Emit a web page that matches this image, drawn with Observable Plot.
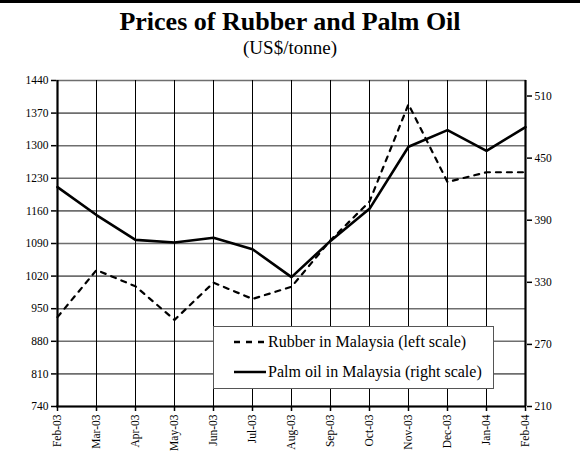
<!DOCTYPE html>
<html>
<head>
<meta charset="utf-8">
<script src="https://cdn.jsdelivr.net/npm/d3@7"></script>
<script src="https://cdn.jsdelivr.net/npm/@observablehq/plot@0.6"></script>
<style>
  html, body { margin: 0; padding: 0; background: #fff; }
  #wrap { position: relative; width: 580px; height: 461px; font-family: "Liberation Serif", "Times New Roman", serif; }
  #topbar { position: absolute; left: 0; top: 0; width: 580px; height: 3px; background: #000; }
  #title { position: absolute; left: 0; width: 580px; top: 7px; text-align: center; font-weight: bold; font-size: 26px; line-height: 30px; }
  #subtitle { position: absolute; left: 0; width: 580px; top: 37px; text-align: center; font-size: 19px; line-height: 22px; }
  #legend { position: absolute; left: 213px; top: 326px; width: 279px; height: 61px; background: #fff; border: 1px solid #555; font-size: 16px; }
  .lg { position: absolute; left: 20px; height: 20px; display: flex; align-items: center; white-space: nowrap; }
  .lg svg { margin-right: 2px; }
  #plot { position: absolute; left: 0; top: 0; }
</style>
</head>
<body>
<div id="wrap">
  <div id="plot"></div>
  <div id="topbar"></div>
  <div id="title">Prices of Rubber and Palm Oil</div>
  <div id="subtitle">(US$/tonne)</div>
  <div id="legend">
    <div class="lg" style="top:5px"><svg width="32" height="6"><line x1="0" y1="3" x2="32" y2="3" stroke="#000" stroke-width="2.5" stroke-dasharray="6,6"/></svg><span>Rubber in Malaysia (left scale)</span></div>
    <div class="lg" style="top:35px"><svg width="32" height="6"><line x1="0" y1="3" x2="32" y2="3" stroke="#000" stroke-width="2.5"/></svg><span>Palm oil in Malaysia (right scale)</span></div>
  </div>
</div>
<script>
const months = ["Feb-03","Mar-03","Apr-03","May-03","Jun-03","Jul-03","Aug-03","Sep-03","Oct-03","Nov-03","Dec-03","Jan-04","Feb-04"];
const rubber = [932, 1033, 998, 926, 1006, 971, 997, 1097, 1180, 1389, 1222, 1243, 1243];
const palmOil = [422, 395, 371, 368.5, 373, 362, 335, 370, 401, 461, 477, 457, 480];
const leftTicks = [740, 810, 880, 950, 1020, 1090, 1160, 1230, 1300, 1370, 1440];
const rightTicks = [210, 270, 330, 390, 450, 510];
const leftDomain = [740, 1440];
const rightDomain = [210, 525];

const k = (leftDomain[1] - leftDomain[0]) / (rightDomain[1] - rightDomain[0]);
const toLeft = v => leftDomain[0] + (v - rightDomain[0]) * k;
const fromLeft = v => Math.round(rightDomain[0] + (v - leftDomain[0]) / k);

const rubberData = months.map((m, i) => ({month: m, value: rubber[i]}));
const palmData = months.map((m, i) => ({month: m, value: toLeft(palmOil[i])}));

const chart = Plot.plot({
  width: 580,
  height: 461,
  marginLeft: 56,
  marginRight: 54,
  marginTop: 80,
  marginBottom: 55,
  style: {fontFamily: "'Liberation Serif', 'Times New Roman', serif", fontSize: "11.5px", color: "#000", background: "transparent"},
  x: {type: "point", domain: months, padding: 0, label: null},
  y: {domain: leftDomain, label: null},
  marks: [
    Plot.gridY(leftTicks, {stroke: "#6e6e6e", strokeOpacity: 1, strokeWidth: 1.6}),
    Plot.gridX(months, {stroke: "#000", strokeOpacity: 1, strokeWidth: 1}),
    Plot.axisY(leftTicks, {anchor: "left", label: null, tickSize: 5, tickPadding: 3, fontSize: 11.5, tickFormat: d => String(d), strokeWidth: 1.5}),
    Plot.axisY(rightTicks.map(toLeft), {anchor: "right", label: null, tickSize: 5, tickPadding: 3, fontSize: 11.5, tickFormat: fromLeft, strokeWidth: 1.5}),
    Plot.axisX(months, {anchor: "bottom", label: null, tickSize: 5, tickPadding: 3, tickRotate: -90, fontSize: 11.5, strokeWidth: 1.5}),
    Plot.ruleX([months[0], months[months.length - 1]], {stroke: "#000", strokeWidth: 2.2}),
    Plot.ruleY([leftDomain[0]], {stroke: "#000", strokeWidth: 2.2}),
    Plot.line(rubberData, {x: "month", y: "value", stroke: "#000", strokeWidth: 2.2, strokeDasharray: "5,6"}),
    Plot.line(palmData, {x: "month", y: "value", stroke: "#000", strokeWidth: 2.6})
  ]
});
document.getElementById("plot").appendChild(chart);
</script>
</body>
</html>
